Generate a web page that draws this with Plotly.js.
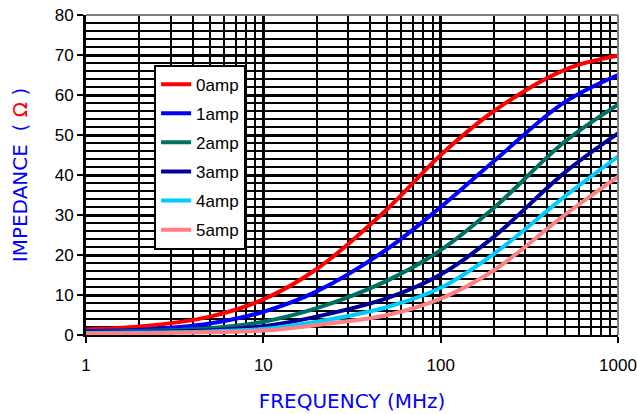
<!DOCTYPE html>
<html>
<head>
<meta charset="utf-8">
<script src="https://cdn.plot.ly/plotly-3.0.1.min.js"></script>
<style>html,body{margin:0;padding:0;background:#fff;}#chart{width:637px;height:414px;}</style>
</head>
<body>
<div id="chart"></div>
<script>
// Frequencies (MHz)
var freq = [1, 2, 5, 10, 20, 50, 100, 200, 500, 1000];
// Impedance (Ohm) per bias current
var amp0 = [1.4, 2.1, 4.6, 8.9, 16.5, 31.5, 45.0, 56.0, 66.3, 69.8];
var amp1 = [1.0, 1.3, 2.9, 5.8, 10.9, 21.5, 32.0, 43.5, 58.2, 65.0];
var amp2 = [0.8, 1.0, 1.7, 3.3, 6.7, 13.6, 21.2, 31.8, 48.3, 57.6];
var amp3 = [0.7, 0.8, 1.2, 2.2, 4.6, 9.2, 15.1, 24.6, 40.6, 50.4];
var amp4 = [0.5, 0.6, 0.9, 1.5, 3.3, 7.0, 11.8, 20.3, 34.6, 44.6];
var amp5 = [0.4, 0.45, 0.7, 1.1, 2.5, 5.0, 9.1, 16.2, 30.0, 39.6];
var seriesNames = ["0amp", "1amp", "2amp", "3amp", "4amp", "5amp"];
var seriesValues = [amp0, amp1, amp2, amp3, amp4, amp5];
var seriesColors = ["#FF0000", "#0000FF", "#007060", "#000099", "#00CCFF", "#FF8080"];
var xTickVals = [1, 10, 100, 1000];
var xTickText = ["1", "10", "100", "1000"];
var xMinorVals = [2, 3, 4, 5, 6, 7, 8, 9, 20, 30, 40, 50, 60, 70, 80, 90, 200, 300, 400, 500, 600, 700, 800, 900];

var traces = seriesNames.map(function (n, i) {
  return {
    x: freq, y: seriesValues[i], name: n, type: "scatter", mode: "lines",
    legendgroup: n,
    line: {color: seriesColors[i], width: 4, shape: "spline", smoothing: 1}
  };
});
// helper trace that only carries the minor-grid axis
traces.push({x: freq, y: amp0, xaxis: "x2", yaxis: "y", type: "scatter", mode: "lines",
  line: {color: "rgba(0,0,0,0)", width: 0}, showlegend: false, hoverinfo: "skip"});

var layout = {
  width: 637, height: 414,
  margin: {l: 86, r: 19, t: 15, b: 79},
  paper_bgcolor: "#fff", plot_bgcolor: "#fff",
  font: {family: "Liberation Sans, Arial, sans-serif", size: 17, color: "#000"},
  showlegend: true,
  legend: {
    x: 0.128, y: 0.845, xanchor: "left", yanchor: "top",
    bgcolor: "#fff", bordercolor: "#000", borderwidth: 2,
    font: {family: "Liberation Sans, Arial, sans-serif", size: 17, color: "#000"},
    tracegroupgap: 4, itemwidth: 30, traceorder: "grouped"
  },
  xaxis: {
    type: "log", range: [0, 3],
    tickmode: "array", tickvals: xTickVals, ticktext: xTickText,
    ticks: "outside", ticklen: 6, tickwidth: 2, tickcolor: "#000",
    ticklabelstandoff: 8,
    showgrid: true, gridcolor: "#000", gridwidth: 3,
    showline: true, linecolor: "#000", linewidth: 2,
    zeroline: false,
    title: {text: "FREQUENCY (MHz)", font: {family: "DejaVu Sans, Verdana, sans-serif", size: 20, color: "#0000FF"}, standoff: 20}
  },
  xaxis2: {
    type: "log", range: [0, 3], overlaying: "x", side: "bottom",
    tickmode: "array", tickvals: xMinorVals,
    showticklabels: false, ticks: "",
    showgrid: true, gridcolor: "#000", gridwidth: 2,
    showline: false, zeroline: false
  },
  yaxis: {
    range: [0, 80], dtick: 10, tick0: 0,
    ticks: "outside", ticklen: 6, tickwidth: 2, tickcolor: "#000",
    showgrid: true, gridcolor: "#000", gridwidth: 3,
    minor: {dtick: 2, showgrid: true, gridcolor: "#000", gridwidth: 2, ticks: ""},
    showline: true, linecolor: "#000", linewidth: 3,
    zeroline: false,
    title: {text: "IMPEDANCE  ( <span style='color:#FF0000'>Ω</span> )", font: {family: "DejaVu Sans, Verdana, sans-serif", size: 20, color: "#0000FF"}, standoff: 22}
  },
  shapes: [
    {type: "line", xref: "paper", yref: "paper", x0: 0, x1: 1, y0: 1, y1: 1, line: {color: "#808080", width: 2}},
    {type: "line", xref: "paper", yref: "paper", x0: 1, x1: 1, y0: 0, y1: 1, line: {color: "#808080", width: 2}}
  ]
};

Plotly.newPlot("chart", traces, layout, {displayModeBar: false, staticPlot: true});
</script>
</body>
</html>
